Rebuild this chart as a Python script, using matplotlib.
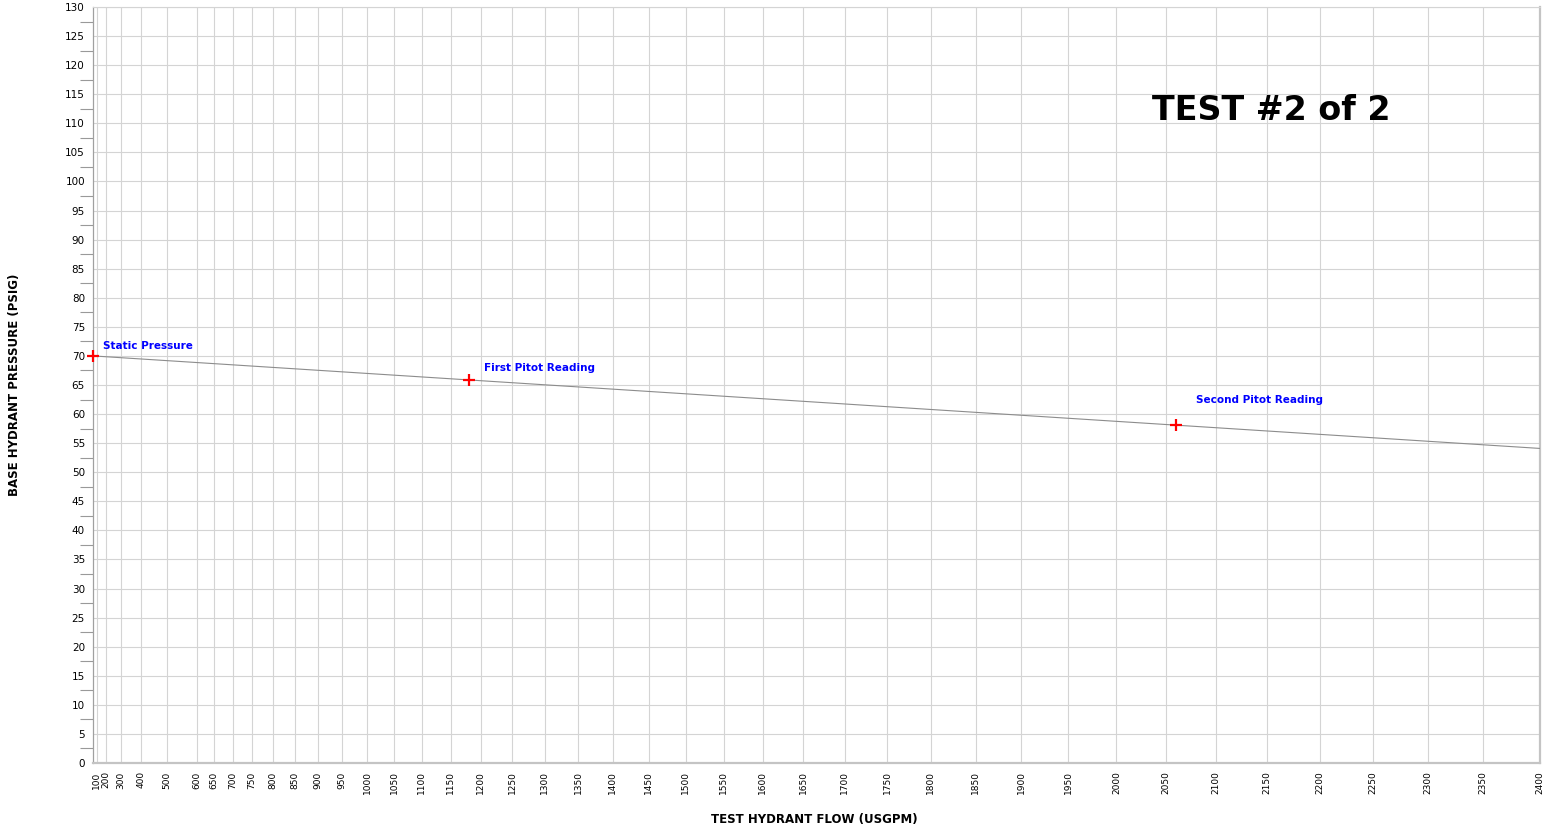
import numpy as np
import matplotlib
matplotlib.use("Agg")
import matplotlib.pyplot as plt
from matplotlib.ticker import FixedLocator, MultipleLocator

# hydrant flow test readings
READING_LABELS = ["Static Pressure", "First Pitot Reading", "Second Pitot Reading"]
FLOWS = [0, 1180, 2060]            # USGPM
PRESSURES = [70.0, 65.8, 58.1]     # PSIG

FLOW_TICKS = [100, 200, 300, 400, 500, 600, 650, 700, 750, 800, 850, 900, 950,
              1000, 1050, 1100, 1150, 1200, 1250, 1300, 1350, 1400, 1450, 1500,
              1550, 1600, 1650, 1700, 1750, 1800, 1850, 1900, 1950, 2000, 2050,
              2100, 2150, 2200, 2250, 2300, 2350, 2400]
FLOW_MAX = 2400
PSI_MAX = 130
TITLE = "TEST #2 of 2"

# exponent of the flow axis (power-law hydraulic graph paper)
N = 1.9


def fwd(q):
    return np.power(np.clip(np.asarray(q, dtype=float), 0, None), N)


def inv(t):
    return np.power(np.clip(np.asarray(t, dtype=float), 0, None), 1.0 / N)


fig = plt.figure(figsize=(15.56, 8.33), dpi=100)
ax = fig.add_axes([93.3 / 1556, 1 - 763 / 833, 1446.7 / 1556, 756 / 833])
ax.set_xscale("function", functions=(fwd, inv))
ax.set_xlim(0, FLOW_MAX)
ax.set_ylim(0, PSI_MAX)

ax.xaxis.set_major_locator(FixedLocator(FLOW_TICKS))
ax.set_xticklabels([str(t) for t in FLOW_TICKS], rotation=90, fontsize=6.5)
ax.xaxis.set_minor_locator(FixedLocator([]))
ax.tick_params(axis="x", length=0, pad=6)

ax.yaxis.set_major_locator(MultipleLocator(5))
ax.yaxis.set_minor_locator(MultipleLocator(2.5))
ax.tick_params(axis="y", which="major", length=0, pad=6, labelsize=7.5)
ax.tick_params(axis="y", which="minor", direction="out", length=9.5,
               width=0.8, color="#999999")

ax.grid(True, which="major", color="#d4d4d4", linewidth=0.8)
ax.set_axisbelow(True)
for side in ("bottom", "right"):
    ax.spines[side].set_color("#c4c4c4")
    ax.spines[side].set_linewidth(1.6)
ax.spines["top"].set_color("#d4d4d4")
ax.spines["left"].set_color("#a0a0a0")
ax.spines["left"].set_linewidth(0.9)

# straight line on the paper: static through the last pitot reading
q = np.linspace(0, FLOW_MAX, 400)
drop = (PRESSURES[0] - PRESSURES[-1]) / fwd(FLOWS[-1])
ax.plot(q, PRESSURES[0] - drop * fwd(q), color="#8c8c8c", linewidth=0.8, zorder=3)

ax.plot(FLOWS, PRESSURES, linestyle="none", marker="+", markersize=9,
        markeredgewidth=1.6, color="#ff0000", zorder=5, clip_on=False)

offsets = [(10, 10), (15, 12), (20, 25)]
for name, x, y, off in zip(READING_LABELS, FLOWS, PRESSURES, offsets):
    ax.annotate(name, (x, y), xytext=off, textcoords="offset pixels",
                ha="left", va="center", fontsize=7.5, fontweight="bold",
                color="#0000ff")

ax.text(0.732, 0.863, TITLE, transform=ax.transAxes, ha="left", va="center",
        fontsize=24, fontweight="bold", color="black")

fig.text(814 / 1556, 1 - 820 / 833, "TEST HYDRANT FLOW (USGPM)",
         ha="center", va="center", fontsize=8.5, fontweight="bold")
fig.text(15 / 1556, 1 - 385 / 833, "BASE HYDRANT PRESSURE (PSIG)",
         ha="center", va="center", rotation=90, fontsize=8.5, fontweight="bold")

fig.savefig("out.png", dpi=100)
